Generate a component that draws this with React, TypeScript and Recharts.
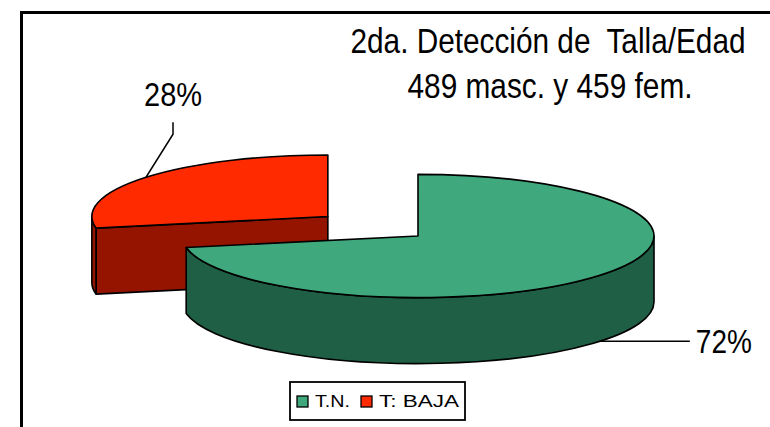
// 3D-looking pie: second size-for-age screening, normal vs. low height

import { Legend, Pie, PieChart } from "recharts";

const NAMES = ["T: BAJA", "T.N."];
const VALUES = [28, 72];
const TOP_COLORS = ["#ff2a00", "#3fa87c"];
const SIDE_COLORS = ["#951400", "#1f5f45"];
const EXPLODED = [true, false];
const LEGEND_ORDER = ["T.N.", "T: BAJA"];
const TITLE = ["2da. Detección de  Talla/Edad", "489 masc. y 459 fem."];

const data = NAMES.map((name, i) => ({
  name,
  value: VALUES[i],
  fill: TOP_COLORS[i],
  side: SIDE_COLORS[i],
  exploded: EXPLODED[i],
}));

const TILT = 0.261; // ellipse ry / rx
const DEPTH = 66; // wall height in px
const PULL = 117; // explode distance
const SANS = "'Liberation Sans', Arial, sans-serif";

const rad = (a: number) => (a * Math.PI) / 180;

// Arial stretched upward, like the original export
function TallText({ x, y, size, stretch, anchor = "start", width, children }: any) {
  return (
    <g transform={`translate(${x},${y}) scale(1,${stretch})`}>
      <text
        x={0}
        y={0}
        textAnchor={anchor}
        fontSize={size}
        fontFamily={SANS}
        fill="#000"
        textLength={width}
        lengthAdjust="spacingAndGlyphs"
        style={{ whiteSpace: "pre" }}
      >
        {children}
      </text>
    </g>
  );
}

function center(props: any) {
  const p = props.payload ?? props;
  const mid = props.midAngle ?? (props.startAngle + props.endAngle) / 2;
  const off = p.exploded ? PULL : 0;
  return {
    p,
    ox: props.cx + off * Math.cos(rad(mid)),
    oy: props.cy - off * TILT * Math.sin(rad(mid)),
  };
}

function Slice3D(props: any) {
  const { outerRadius: r, startAngle, endAngle } = props;
  const { p, ox, oy } = center(props);
  const s = Math.min(startAngle, endAngle);
  const e = Math.max(startAngle, endAngle);
  const ry = r * TILT;
  const pt = (a: number, dz = 0) =>
    `${ox + r * Math.cos(rad(a))},${oy - ry * Math.sin(rad(a)) + dz}`;
  const arc = (a: number, b: number, sweep: number) =>
    `A${r},${ry} 0 ${Math.abs(b - a) > 180 ? 1 : 0} ${sweep} `;

  const faces: string[] = [];
  // cut faces turned toward the viewer
  if (Math.cos(rad(s)) > 1e-6)
    faces.push(`M${ox},${oy} L${pt(s)} L${pt(s, DEPTH)} L${ox},${oy + DEPTH} Z`);
  if (Math.cos(rad(e)) < -1e-6)
    faces.push(`M${ox},${oy} L${pt(e)} L${pt(e, DEPTH)} L${ox},${oy + DEPTH} Z`);
  // front part of the outer wall
  for (let n = -1; n <= 2; n++) {
    const a = Math.max(s, 180 + 360 * n);
    const b = Math.min(e, 360 + 360 * n);
    if (b - a > 0.01)
      faces.push(
        `M${pt(a)} ${arc(a, b, 0)}${pt(b)} L${pt(b, DEPTH)} ${arc(a, b, 1)}${pt(a, DEPTH)} Z`
      );
  }
  const top = `M${ox},${oy} L${pt(s)} ${arc(s, e, 0)}${pt(e)} Z`;

  return (
    <g>
      {faces.map((d, i) => (
        <path key={i} d={d} fill={p.side} stroke="#000" strokeWidth={1.6} strokeLinejoin="round" />
      ))}
      <path d={top} fill={p.fill} stroke="#000" strokeWidth={1.6} strokeLinejoin="round" />
    </g>
  );
}

function renderLabel(props: any) {
  const { outerRadius: r, midAngle, percent } = props;
  const { ox, oy } = center(props);
  const c = Math.cos(rad(midAngle));
  const sn = Math.sin(rad(midAngle));
  const text = `${Math.round(percent * 100)}%`;
  const x0 = ox + r * c;
  if (sn > 0) {
    const y0 = oy - r * TILT * sn;
    const x1 = x0 + 27;
    const y1 = y0 - 43;
    return (
      <g>
        <polyline points={`${x0},${y0} ${x1},${y1} ${x1},${y1 - 12}`} fill="none" stroke="#000" strokeWidth={1.5} />
        <TallText x={x1} y={y1 - 28} size={29} stretch={1.12} anchor="middle" width={58}>
          {text}
        </TallText>
      </g>
    );
  }
  const y0 = oy - r * TILT * sn + DEPTH;
  return (
    <g>
      <line x1={x0} y1={y0} x2={x0 + 90} y2={y0} stroke="#000" strokeWidth={1.5} />
      <TallText x={x0 + 96} y={y0 + 12} size={29} stretch={1.12} width={56}>
        {text}
      </TallText>
    </g>
  );
}

function LegendBox() {
  const colorOf = (name: string) => TOP_COLORS[NAMES.indexOf(name)];
  return (
    <svg width={177} height={40} style={{ display: "block" }}>
      <rect x={1} y={1} width={175} height={38} fill="#fff" stroke="#000" strokeWidth={1.8} />
      {LEGEND_ORDER.map((name, i) => {
        const x = i === 0 ? 8 : 72;
        return (
          <g key={name}>
            <rect x={x} y={15} width={11} height={11} fill={colorOf(name)} stroke="#000" strokeWidth={1.3} />
            <text
              x={x + 18}
              y={26}
              fontSize={16}
              fontFamily={SANS}
              textLength={i === 0 ? 35 : 80}
              lengthAdjust="spacingAndGlyphs"
            >
              {name}
            </text>
          </g>
        );
      })}
    </svg>
  );
}

export default function App() {
  return (
    <div
      style={{
        position: "absolute",
        left: 0,
        top: 0,
        width: 770,
        height: 427,
        overflow: "hidden",
        background: "#fff",
      }}
    >
      <div
        style={{
          position: "absolute",
          left: 20,
          top: 11,
          width: 800,
          height: 500,
          borderTop: "3px solid #000",
          borderLeft: "3px solid #000",
        }}
      />
      <svg width={770} height={120} style={{ position: "absolute", left: 0, top: 0 }}>
        <TallText x={548} y={53} size={29} stretch={1.2} anchor="middle" width={395}>
          {TITLE[0]}
        </TallText>
        <TallText x={550} y={98} size={29} stretch={1.2} anchor="middle" width={285}>
          {TITLE[1]}
        </TallText>
      </svg>
      <PieChart width={770} height={427} margin={{ top: 0, right: 0, bottom: 0, left: 0 }} style={{ position: "absolute", left: 0, top: 0 }}>
        <Pie
          data={data}
          dataKey="value"
          nameKey="name"
          cx={418}
          cy={236}
          outerRadius={236}
          startAngle={90}
          endAngle={450}
          shape={Slice3D}
          activeShape={Slice3D}
          inactiveShape={Slice3D}
          label={renderLabel}
          labelLine={false}
          isAnimationActive={false}
        />
        <Legend content={() => <LegendBox />} wrapperStyle={{ left: 289, top: 381, width: 177 }} />
      </PieChart>
    </div>
  );
}
